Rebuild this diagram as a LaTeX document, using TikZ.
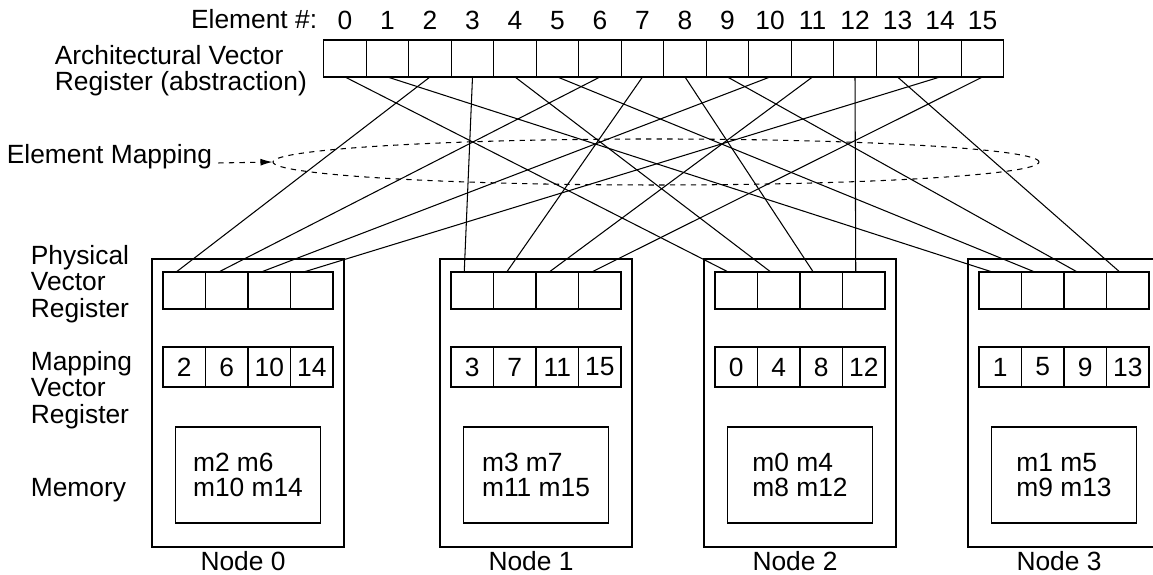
\documentclass[tikz,border=0pt]{standalone}
\usepackage{fontspec}
\setmainfont{Liberation Sans}
\usetikzlibrary{positioning,shapes.geometric,arrows.meta}

\begin{document}
\begin{tikzpicture}[
        line width=0.6pt,
        every node/.style={font=\fontsize{15}{15}\selectfont},
        regcell/.style={draw,rectangle,minimum width=0.85cm,minimum height=0.74cm,inner sep=0pt,outer sep=0pt},
        mapcell/.style={regcell,minimum height=0.8cm},
        nodebox/.style={draw,rectangle,minimum width=3.84cm,minimum height=5.76cm,outer sep=0pt},
        membox/.style={draw,rectangle,minimum width=2.9cm,minimum height=1.92cm,align=left,font=\fontsize{15}{14.5}\selectfont},
        sidelabel/.style={anchor=west,align=left}
    ]
        \clip (0,0) rectangle (23.06,11.5);

        %%%%%%%%% Architectural register %%%%%%%%%
        \node[regcell] (e0) at (6.9,10.33) {};
        \node[regcell] (e1) [right=0pt of e0] {};
        \node[regcell] (e2) [right=0pt of e1] {};
        \node[regcell] (e3) [right=0pt of e2] {};
        \node[regcell] (e4) [right=0pt of e3] {};
        \node[regcell] (e5) [right=0pt of e4] {};
        \node[regcell] (e6) [right=0pt of e5] {};
        \node[regcell] (e7) [right=0pt of e6] {};
        \node[regcell] (e8) [right=0pt of e7] {};
        \node[regcell] (e9) [right=0pt of e8] {};
        \node[regcell] (e10) [right=0pt of e9] {};
        \node[regcell] (e11) [right=0pt of e10] {};
        \node[regcell] (e12) [right=0pt of e11] {};
        \node[regcell] (e13) [right=0pt of e12] {};
        \node[regcell] (e14) [right=0pt of e13] {};
        \node[regcell] (e15) [right=0pt of e14] {};

        %%%%%%%%% Element numbers %%%%%%%%%
        \node (k0) [above=0.08cm of e0] {0};
        \node (k1) [above=0.08cm of e1] {1};
        \node (k2) [above=0.08cm of e2] {2};
        \node (k3) [above=0.08cm of e3] {3};
        \node (k4) [above=0.08cm of e4] {4};
        \node (k5) [above=0.08cm of e5] {5};
        \node (k6) [above=0.08cm of e6] {6};
        \node (k7) [above=0.08cm of e7] {7};
        \node (k8) [above=0.08cm of e8] {8};
        \node (k9) [above=0.08cm of e9] {9};
        \node (k10) [above=0.08cm of e10] {10};
        \node (k11) [above=0.08cm of e11] {11};
        \node (k12) [above=0.08cm of e12] {12};
        \node (k13) [above=0.08cm of e13] {13};
        \node (k14) [above=0.08cm of e14] {14};
        \node (k15) [above=0.08cm of e15] {15};
        \node[anchor=east] (elab) at (6.47,11.12) {Element \#:};

        %%%%%%%%% Side labels %%%%%%%%%
        \node[sidelabel,font=\fontsize{15}{14.5}\selectfont] (arch) at (0.97,10.09) {Architectural Vector\\Register (abstraction)};
        \node[sidelabel] (emap) at (0.01,8.36) {Element Mapping};
        \node[sidelabel] (phys) at (0.49,5.82) {Physical\\Vector\\Register};
        \node[sidelabel] (mapl) at (0.49,3.7) {Mapping\\Vector\\Register};
        \node[sidelabel] (meml) at (0.49,1.7) {Memory};

        %%%%%%%%% Mapping ring %%%%%%%%%
        \node[draw,dashed,ellipse,minimum width=15.32cm,minimum height=0.92cm,inner sep=0pt] (ring) at (13.12,8.26) {};
        \draw[dashed,-{Latex[length=0.24cm,width=0.14cm]}] ([yshift=-0.12cm]emap.east) -- (ring.west);

        %%%%%%%%% Nodes %%%%%%%%%
        \node[nodebox] (N0) at (4.96,3.44) {};
        \node[nodebox] (N1) at (10.72,3.44) {};
        \node[nodebox] (N2) at (16.0,3.44) {};
        \node[nodebox] (N3) at (21.28,3.44) {};
        \node (L0) at (4.86,0.28) {Node 0};
        \node (L1) at (10.62,0.28) {Node 1};
        \node (L2) at (15.9,0.28) {Node 2};
        \node (L3) at (21.18,0.28) {Node 3};

        %%%%%%%%% Physical registers %%%%%%%%%
        \node[regcell] (P00) at (3.685,5.69) {};
        \node[regcell] (P01) [right=0pt of P00] {};
        \node[regcell] (P02) [right=0pt of P01] {};
        \node[regcell] (P03) [right=0pt of P02] {};
        \node[regcell] (P10) at (9.445,5.69) {};
        \node[regcell] (P11) [right=0pt of P10] {};
        \node[regcell] (P12) [right=0pt of P11] {};
        \node[regcell] (P13) [right=0pt of P12] {};
        \node[regcell] (P20) at (14.725,5.69) {};
        \node[regcell] (P21) [right=0pt of P20] {};
        \node[regcell] (P22) [right=0pt of P21] {};
        \node[regcell] (P23) [right=0pt of P22] {};
        \node[regcell] (P30) at (20.005,5.69) {};
        \node[regcell] (P31) [right=0pt of P30] {};
        \node[regcell] (P32) [right=0pt of P31] {};
        \node[regcell] (P33) [right=0pt of P32] {};

        %%%%%%%%% Mapping registers %%%%%%%%%
        \node[mapcell] (M00) at (3.685,4.16) {2};
        \node[mapcell] (M01) [right=0pt of M00] {6};
        \node[mapcell] (M02) [right=0pt of M01] {10};
        \node[mapcell] (M03) [right=0pt of M02] {14};
        \node[mapcell] (M10) at (9.445,4.16) {3};
        \node[mapcell] (M11) [right=0pt of M10] {7};
        \node[mapcell] (M12) [right=0pt of M11] {11};
        \node[mapcell] (M13) [right=0pt of M12] {15};
        \node[mapcell] (M20) at (14.725,4.16) {0};
        \node[mapcell] (M21) [right=0pt of M20] {4};
        \node[mapcell] (M22) [right=0pt of M21] {8};
        \node[mapcell] (M23) [right=0pt of M22] {12};
        \node[mapcell] (M30) at (20.005,4.16) {1};
        \node[mapcell] (M31) [right=0pt of M30] {5};
        \node[mapcell] (M32) [right=0pt of M31] {9};
        \node[mapcell] (M33) [right=0pt of M32] {13};

        %%%%%%%%% Memory %%%%%%%%%
        \node[membox] (Mem0) at (4.96,2.0) {m2 m6\\m10 m14};
        \node[membox] (Mem1) at (10.72,2.0) {m3 m7\\m11 m15};
        \node[membox] (Mem2) at (16.0,2.0) {m0 m4\\m8 m12};
        \node[membox] (Mem3) at (21.28,2.0) {m1 m5\\m9 m13};

        %%%%%%%%% Links %%%%%%%%%
        \draw (e2.south) -- ([xshift=-0.16cm]P00.north);
        \draw (e6.south) -- ([xshift=-0.16cm]P01.north);
        \draw (e10.south) -- ([xshift=-0.16cm]P02.north);
        \draw (e14.south) -- ([xshift=-0.16cm]P03.north);
        \draw (e3.south) -- ([xshift=-0.16cm]P10.north);
        \draw (e7.south) -- ([xshift=-0.16cm]P11.north);
        \draw (e11.south) -- ([xshift=-0.16cm]P12.north);
        \draw (e15.south) -- ([xshift=-0.16cm]P13.north);
        \draw (e0.south) -- ([xshift=-0.16cm]P20.north);
        \draw (e4.south) -- ([xshift=-0.16cm]P21.north);
        \draw (e8.south) -- ([xshift=-0.16cm]P22.north);
        \draw (e12.south) -- ([xshift=-0.16cm]P23.north);
        \draw (e1.south) -- ([xshift=-0.16cm]P30.north);
        \draw (e5.south) -- ([xshift=-0.16cm]P31.north);
        \draw (e9.south) -- ([xshift=-0.16cm]P32.north);
        \draw (e13.south) -- ([xshift=-0.16cm]P33.north);
    \end{tikzpicture}
\end{document}
